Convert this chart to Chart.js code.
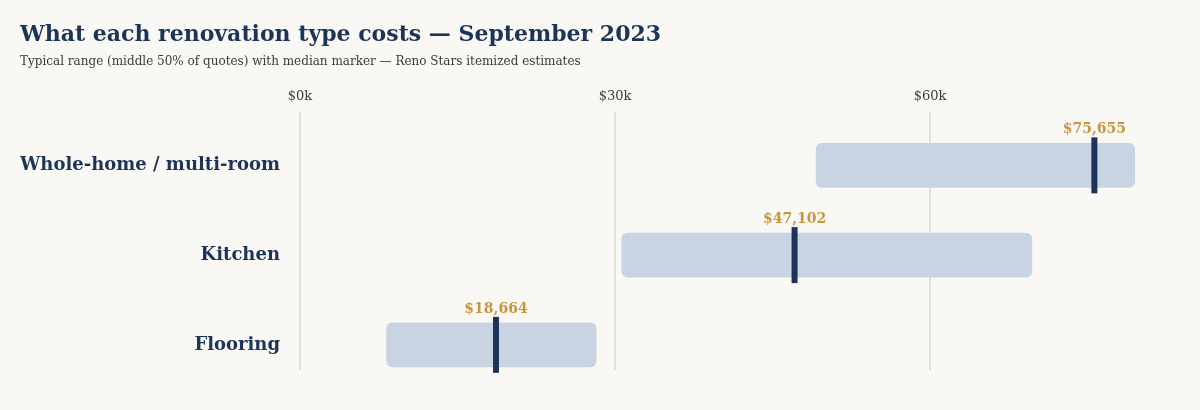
<!DOCTYPE html>
<html lang="en">
<head>
  <meta charset="UTF-8" />
  <title>Renovation costs</title>
  <script src="https://cdn.jsdelivr.net/npm/chart.js"></script>
  <style>
    html, body { margin: 0; padding: 0; background: #faf8f5; }
    #wrap { width: 1200px; height: 410px; }
  </style>
</head>
<body>
<div id="wrap"><canvas id="costChart"></canvas></div>
<script>
  // data
  const categories = ["Whole-home / multi-room", "Kitchen", "Flooring"];
  const rangeLow  = [49150, 30650, 8250];
  const rangeHigh = [79500, 69700, 28200];
  const medians   = [75655, 47102, 18664];
  const xTicks    = [0, 30000, 60000];

  const serif = "'DejaVu Serif', Georgia, serif";
  const navy = "#1d3459";
  const gold = "#c9963f";

  const medianLabels = {
    id: "medianLabels",
    afterDatasetsDraw(chart) {
      const meta = chart.getDatasetMeta(1);
      const ctx = chart.ctx;
      ctx.save();
      ctx.font = "bold 14px " + serif;
      ctx.fillStyle = gold;
      ctx.textAlign = "center";
      ctx.textBaseline = "alphabetic";
      meta.data.forEach((pt, i) => {
        ctx.fillText("$" + medians[i].toLocaleString("en-US"), pt.x, pt.y - 32);
      });
      ctx.restore();
    }
  };

  new Chart(document.getElementById("costChart"), {
    type: "bar",
    data: {
      datasets: [
        {
          type: "bar",
          order: 1,
          data: categories.map((c, i) => ({ x: [rangeLow[i], rangeHigh[i]], y: i })),
          backgroundColor: "#c9d4e3",
          borderRadius: 6,
          borderSkipped: false,
          barThickness: 44
        },
        {
          type: "scatter",
          order: 0,
          clip: false,
          data: categories.map((c, i) => ({ x: medians[i], y: i })),
          pointStyle: "line",
          rotation: 90,
          radius: 28,
          borderWidth: 6,
          borderColor: navy,
          backgroundColor: navy
        }
      ]
    },
    options: {
      indexAxis: "y",
      responsive: true,
      maintainAspectRatio: false,
      animation: false,
      events: [],
      layout: { padding: { left: 20, right: 60, bottom: 40, top: 22 } },
      plugins: {
        legend: { display: false },
        tooltip: { enabled: false },
        title: {
          display: true,
          text: "What each renovation type costs \u2014 September 2023",
          align: "start",
          color: navy,
          font: { family: serif, size: 22, weight: "bold" },
          padding: { top: 0, bottom: 6 }
        },
        subtitle: {
          display: true,
          text: "Typical range (middle 50% of quotes) with median marker \u2014 Reno Stars itemized estimates",
          align: "start",
          color: "#3a3a3a",
          font: { family: serif, size: 12 },
          padding: { top: 0, bottom: 12 }
        }
      },
      scales: {
        x: {
          type: "linear",
          position: "top",
          min: 0,
          max: 80000,
          afterBuildTicks: (s) => { s.ticks = xTicks.map(v => ({ value: v })); },
          grid: { color: "#e3e0dc", lineWidth: 2, drawTicks: false },
          border: { display: false },
          ticks: {
            color: "#3a3a3a",
            padding: 8,
            font: { family: serif, size: 13 },
            callback: (v) => "$" + (v / 1000) + "k"
          }
        },
        y: {
          type: "linear",
          reverse: true,
          offset: false,
          min: -0.59,
          max: 2.28,
          afterBuildTicks: (s) => { s.ticks = categories.map((c, i) => ({ value: i })); },
          afterFit: (s) => { s.width = 280; },
          grid: { display: false },
          border: { display: false },
          ticks: {
            color: navy,
            padding: 12,
            font: { family: serif, size: 18, weight: "bold" },
            callback: (v) => categories[v]
          }
        }
      }
    },
    plugins: [medianLabels]
  });
</script>
</body>
</html>
